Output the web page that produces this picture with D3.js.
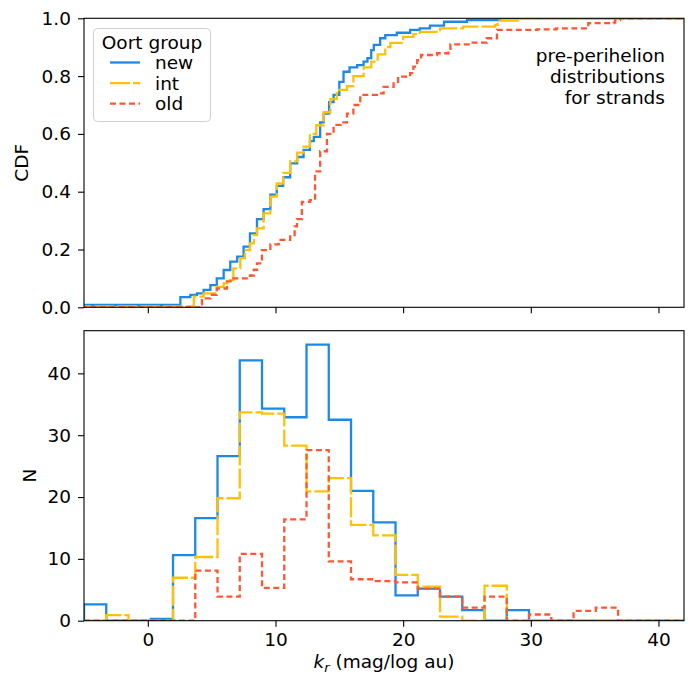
<!DOCTYPE html>
<html>
<head>
<meta charset="utf-8">
<script src="https://cdn.jsdelivr.net/npm/d3@7"></script>
<style>
  body { margin: 0; background: #fff; }
  text { font-family: "DejaVu Sans", sans-serif; fill: #000; }
</style>
</head>
<body>
<div id="chart"></div>
<script>
// Groups and styles
const groups = ["new", "int", "old"];
const groupColor = { new: "#1E88E5", int: "#FFC107", old: "#FF5733" };
const groupDash = { new: null, int: "20,3", old: "6,3.5" };

// Histogram bins (k_r, mag/log au)
const binStart = -5;
const binWidth = 1.743;
const histNew = [2.65, 0, 0, 0.3, 10.6, 16.6, 26.6, 42.1, 34.3, 32.9, 44.65, 32.5, 21.0, 15.9,
  4.1, 5.2, 3.9, 1.7, 0, 1.7, 0, 0, 0, 0, 0, 0, 0];
const histInt = [0, 0.9, 0, 0, 6.95, 10.3, 19.8, 33.7, 33.5, 28.3, 20.9, 23.05, 15.5, 13.8,
  7.4, 5.5, 0.65, 0, 5.65, 0, 0, 0, 0, 0, 0, 0, 0];
const histOld = [0, 0, 0, 0, 0, 8.1, 3.9, 10.8, 5.3, 16.4, 27.6, 9.6, 6.7, 6.4,
  6.2, 5.2, 3.9, 2.1, 3.9, 0, 1.0, 0, 1.6, 2.1, 0, 0, 0];

// Cumulative distributions, [k_r, CDF]
const cdfNew = [[-6, 0.008], [2.55, 0.035], [3.33, 0.043], [3.85, 0.048], [4.37, 0.06], [4.9, 0.077],
  [5.4, 0.1], [5.94, 0.129], [6.46, 0.158], [7.0, 0.175], [7.5, 0.21], [8.0, 0.256], [8.55, 0.305],
  [9.07, 0.34], [9.6, 0.39], [10.1, 0.42], [10.6, 0.45], [11.15, 0.498], [11.7, 0.52], [12.2, 0.545],
  [12.7, 0.575], [13.0, 0.59], [13.5, 0.64], [13.77, 0.67], [14.2, 0.71], [14.55, 0.735], [15.0, 0.78],
  [15.33, 0.815], [15.8, 0.83], [16.4, 0.838], [16.9, 0.85], [17.2, 0.862], [17.5, 0.89], [17.7, 0.908],
  [18.2, 0.931], [18.6, 0.942], [19.5, 0.95], [20.55, 0.96], [21.3, 0.965], [22.1, 0.975], [23.2, 0.988],
  [25.0, 0.994], [27.6, 1.0], [43, 1.0]];
const cdfInt = [[-6, 0.003], [3.6, 0.037], [4.37, 0.048], [5.4, 0.071], [5.94, 0.083], [6.2, 0.094],
  [6.7, 0.135], [7.24, 0.17], [7.6, 0.198], [8.0, 0.221], [8.3, 0.25], [8.55, 0.273], [9.07, 0.325],
  [9.6, 0.383], [10.1, 0.429], [10.6, 0.465], [11.15, 0.505], [11.7, 0.535], [12.2, 0.556], [12.7, 0.6],
  [13.2, 0.63], [13.77, 0.675], [14.3, 0.72], [14.8, 0.752], [15.6, 0.765], [16.1, 0.8], [16.9, 0.83],
  [17.5, 0.85], [18.0, 0.875], [18.6, 0.9], [19.0, 0.915], [20.0, 0.936], [20.8, 0.945], [21.3, 0.953],
  [22.9, 0.965], [24.7, 0.971], [27.2, 0.977], [27.4, 0.992], [29.0, 1.0], [43, 1.0]];
const cdfOld = [[-6, 0], [4.1, 0.01], [4.24, 0.031], [4.9, 0.043], [5.4, 0.065], [6.2, 0.09], [6.7, 0.1],
  [8.0, 0.11], [8.3, 0.13], [8.55, 0.152], [8.94, 0.198], [9.6, 0.218], [10.25, 0.233], [11.15, 0.25],
  [11.5, 0.28], [11.68, 0.305], [12.07, 0.365], [12.7, 0.371], [13.1, 0.47], [13.5, 0.54], [14.03, 0.6],
  [14.55, 0.631], [15.1, 0.64], [15.6, 0.67], [16.1, 0.7], [16.64, 0.735], [17.95, 0.74], [18.47, 0.763],
  [19.25, 0.78], [19.6, 0.798], [20.55, 0.81], [20.8, 0.833], [21.1, 0.855], [21.4, 0.873], [22.65, 0.879],
  [23.55, 0.89], [23.7, 0.91], [25.25, 0.916], [26.56, 0.931], [27.35, 0.96], [30.5, 0.962], [32, 0.965],
  [34.4, 0.971], [34.5, 0.983], [36.5, 0.985], [36.6, 0.994], [37, 1.0], [43, 1.0]];

const xTicks = [0, 10, 20, 30, 40];
const cdfTicks = [0, 0.2, 0.4, 0.6, 0.8, 1.0];
const nTicks = [0, 10, 20, 30, 40];
const noteLines = ["pre-perihelion", "distributions", "for strands"];

const histData = { new: histNew, int: histInt, old: histOld };
const cdfData = { new: cdfNew, int: cdfInt, old: cdfOld };

// Layout
const width = 691;
const height = 678;
const plotLeft = 84;
const plotRight = 684;
const topPanel = { y0: 18.3, y1: 307.3 };
const botPanel = { y0: 330.7, y1: 620.7 };
const fontSize = "18.5px";
const lineWidth = 2.3;

const svg = d3.select("#chart")
  .append("svg")
  .attr("width", width)
  .attr("height", height);

const x = d3.scaleLinear().domain([-5, 42]).range([plotLeft, plotRight]);
const yCdf = d3.scaleLinear().domain([0, 1]).range([topPanel.y1, topPanel.y0]);
const yN = d3.scaleLinear().domain([0, 46.9]).range([botPanel.y1, botPanel.y0]);

// clip paths for each panel
const defs = svg.append("defs");
[["clipTop", topPanel], ["clipBot", botPanel]].forEach(([id, p]) => {
  defs.append("clipPath").attr("id", id)
    .append("rect")
    .attr("x", plotLeft).attr("y", p.y0)
    .attr("width", plotRight - plotLeft).attr("height", p.y1 - p.y0);
});

/*
Top panel: cumulative distributions.
*/
const cdfLine = d3.line()
  .x(d => x(d[0]))
  .y(d => yCdf(d[1]))
  .curve(d3.curveStepAfter);

const cdfLayer = svg.append("g").attr("clip-path", "url(#clipTop)");
groups.forEach(g => {
  cdfLayer.append("path")
    .datum(cdfData[g])
    .attr("d", cdfLine)
    .attr("fill", "none")
    .attr("stroke", groupColor[g])
    .attr("stroke-width", lineWidth)
    .attr("stroke-dasharray", groupDash[g]);
});

/*
Bottom panel: step histograms.
*/
function histPoints(counts) {
  let pts = [[binStart, 0]];
  counts.forEach((c, i) => pts.push([binStart + i * binWidth, c]));
  pts.push([binStart + counts.length * binWidth, counts[counts.length - 1]]);
  pts.push([binStart + counts.length * binWidth, 0]);
  return pts;
}

const histLine = d3.line()
  .x(d => x(d[0]))
  .y(d => yN(d[1]))
  .curve(d3.curveStepAfter);

const histLayer = svg.append("g").attr("clip-path", "url(#clipBot)");
groups.forEach(g => {
  histLayer.append("path")
    .datum(histPoints(histData[g]))
    .attr("d", histLine)
    .attr("fill", "none")
    .attr("stroke", groupColor[g])
    .attr("stroke-width", lineWidth)
    .attr("stroke-dasharray", groupDash[g]);
});

// Axes
function styleAxis(sel) {
  sel.select(".domain").remove();
  sel.selectAll(".tick line").attr("stroke", "#000").attr("stroke-width", 1.1);
  sel.selectAll(".tick text")
    .attr("fill", "#000")
    .style("font-size", fontSize)
    .style("font-family", "DejaVu Sans, sans-serif");
}

svg.append("g")
  .attr("transform", `translate(0,${topPanel.y1})`)
  .call(d3.axisBottom(x).tickValues(xTicks).tickSize(6).tickFormat(""))
  .call(styleAxis);

svg.append("g")
  .attr("transform", `translate(0,${botPanel.y1})`)
  .call(d3.axisBottom(x).tickValues(xTicks).tickSize(6).tickPadding(6).tickFormat(d3.format("d")))
  .call(styleAxis);

svg.append("g")
  .attr("transform", `translate(${plotLeft},0)`)
  .call(d3.axisLeft(yCdf).tickValues(cdfTicks).tickSize(6).tickPadding(7).tickFormat(d3.format(".1f")))
  .call(styleAxis);

svg.append("g")
  .attr("transform", `translate(${plotLeft},0)`)
  .call(d3.axisLeft(yN).tickValues(nTicks).tickSize(6).tickPadding(7).tickFormat(d3.format("d")))
  .call(styleAxis);

// Panel frames
[topPanel, botPanel].forEach(p => {
  svg.append("rect")
    .attr("x", plotLeft).attr("y", p.y0)
    .attr("width", plotRight - plotLeft).attr("height", p.y1 - p.y0)
    .attr("fill", "none")
    .attr("stroke", "#000")
    .attr("stroke-width", 1.1);
});

// Axis labels
svg.append("text")
  .attr("transform", `translate(28,${(topPanel.y0 + topPanel.y1) / 2}) rotate(-90)`)
  .attr("text-anchor", "middle")
  .style("font-size", fontSize)
  .text("CDF");

svg.append("text")
  .attr("transform", `translate(36,${(botPanel.y0 + botPanel.y1) / 2}) rotate(-90)`)
  .attr("text-anchor", "middle")
  .style("font-size", fontSize)
  .text("N");

const xLabel = svg.append("text")
  .attr("x", (plotLeft + plotRight) / 2)
  .attr("y", 668)
  .attr("text-anchor", "middle")
  .style("font-size", fontSize);
xLabel.append("tspan").style("font-style", "italic").text("k");
xLabel.append("tspan").style("font-style", "italic").style("font-size", "13px")
  .attr("dy", 4).text("r");
xLabel.append("tspan").attr("dy", -4).text(" (mag/log au)");

// Annotation
svg.append("g")
  .selectAll("text")
  .data(noteLines)
  .enter()
  .append("text")
  .attr("x", 665)
  .attr("y", (d, i) => 62 + i * 21)
  .attr("text-anchor", "end")
  .style("font-size", fontSize)
  .text(d => d);

// Legend
const legend = svg.append("g");
legend.append("rect")
  .attr("x", 93.5).attr("y", 28.5)
  .attr("width", 117).attr("height", 93)
  .attr("rx", 4)
  .attr("fill", "#fff")
  .attr("fill-opacity", 0.8)
  .attr("stroke", "#d0d0d0")
  .attr("stroke-width", 1);

legend.append("text")
  .attr("x", 152).attr("y", 48.5)
  .attr("text-anchor", "middle")
  .style("font-size", fontSize)
  .text("Oort group");

groups.forEach((g, i) => {
  let yy = 62.5 + i * 20.6;
  legend.append("line")
    .attr("x1", 110).attr("x2", 140)
    .attr("y1", yy).attr("y2", yy)
    .attr("stroke", groupColor[g])
    .attr("stroke-width", lineWidth)
    .attr("stroke-dasharray", groupDash[g]);
  legend.append("text")
    .attr("x", 155).attr("y", yy + 6.5)
    .style("font-size", fontSize)
    .text(g);
});
</script>
</body>
</html>
